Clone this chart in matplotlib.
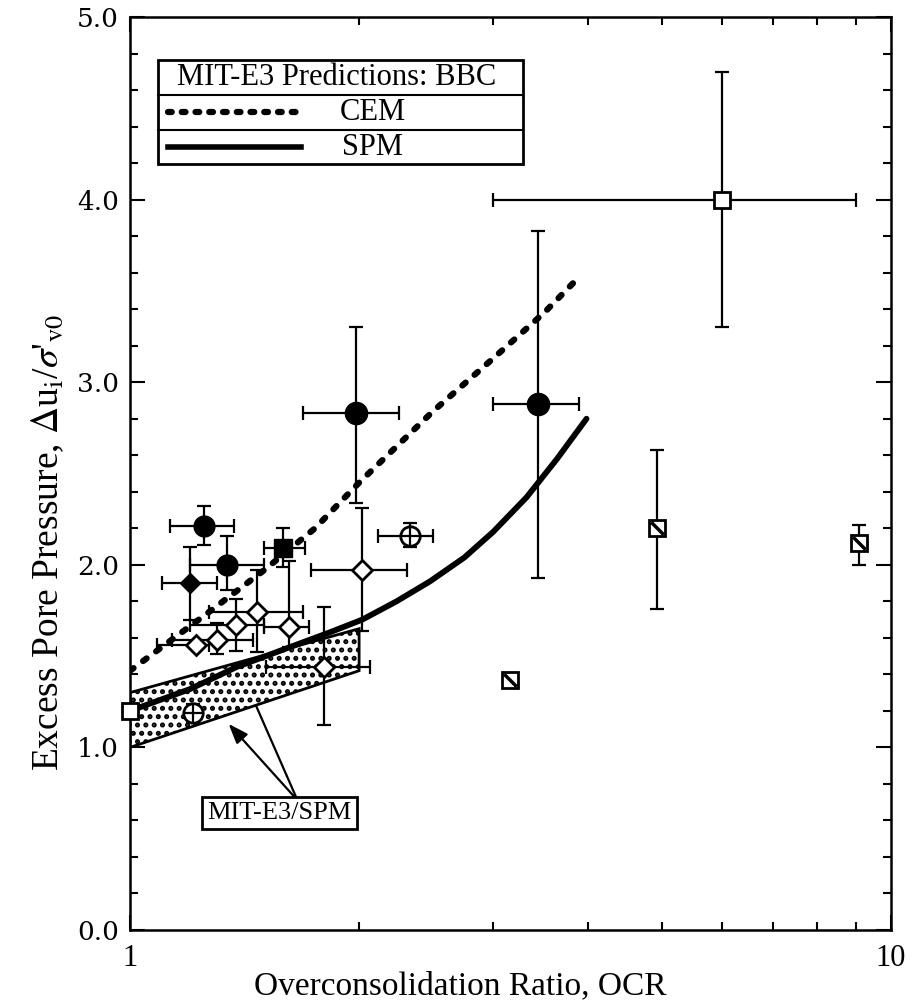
import numpy as np
import matplotlib
matplotlib.use('agg')
import matplotlib.pyplot as plt
from matplotlib.patches import Polygon, Rectangle
from matplotlib.path import Path
from matplotlib.ticker import FixedLocator, NullFormatter

plt.rcParams['font.family'] = ['Liberation Serif', 'DejaVu Serif']
plt.rcParams['mathtext.fontset'] = 'stix'
plt.rcParams['hatch.linewidth'] = 2.4

# MIT-E3 predictions (BBC)
spm_ocr = [1.0, 1.2, 1.38, 1.6, 1.83, 2.02, 2.24, 2.48, 2.75, 3.0, 3.32, 3.64, 3.98]
spm_du = [1.20, 1.32, 1.44, 1.54, 1.63, 1.70, 1.80, 1.91, 2.04, 2.18, 2.37, 2.58, 2.80]
cem_ocr = [1.0, 1.25, 1.5, 1.75, 2.0, 2.5, 3.0, 3.5, 3.9]
cem_du = [1.42, 1.72, 1.97, 2.20, 2.45, 2.84, 3.13, 3.38, 3.58]

# MIT-E3/SPM range band (corners)
band_ocr = [1.0, 2.0, 2.0, 1.0]
band_du = [1.30, 1.65, 1.42, 1.00]

# measured data: ocr, du, ocr_lo, ocr_hi, du_lo, du_hi
filled_circle = [
    (1.98, 2.83, 1.69, 2.26, 2.34, 3.30),
    (3.44, 2.88, 3.00, 3.89, 1.93, 3.83),
    (1.25, 2.21, 1.13, 1.37, 2.11, 2.32),
    (1.34, 2.00, 1.20, 1.50, 1.86, 2.16),
]
filled_diamond = [(1.20, 1.90, 1.10, 1.30, 1.70, 2.10)]
filled_square = [(1.59, 2.09, 1.50, 1.70, 1.99, 2.20)]
crossed_circle = [
    (2.33, 2.16, 2.12, 2.50, 2.10, 2.23),
    (1.21, 1.19, 1.21, 1.21, 1.14, 1.24),
]
open_diamond = [
    (2.02, 1.97, 1.73, 2.31, 1.64, 2.31),
    (1.47, 1.74, 1.27, 1.69, 1.52, 1.97),
    (1.38, 1.67, 1.20, 1.50, 1.53, 1.81),
    (1.62, 1.66, 1.50, 1.72, 1.55, 2.02),
    (1.30, 1.59, 1.135, 1.45, 1.51, 1.68),
    (1.22, 1.56, 1.085, 1.27, 1.56, 1.56),
    (1.80, 1.44, 1.51, 2.07, 1.12, 1.77),
]
open_square = [
    (6.0, 4.0, 3.0, 9.0, 3.30, 4.70),
    (1.0, 1.20, 1.0, 1.0, 1.20, 1.20),
]
slashed_square = [
    (3.16, 1.37, 3.16, 3.16, 1.37, 1.37),
    (4.93, 2.20, 4.93, 4.93, 1.76, 2.63),
    (9.08, 2.12, 9.08, 9.08, 2.00, 2.22),
]

yticks = [0.0, 1.0, 2.0, 3.0, 4.0, 5.0]
ytick_labels = ['0.0', '1.0', '2.0', '3.0', '4.0', '5.0']
xticks = [1, 10]
xtick_labels = ['1', '10']

fig = plt.figure(figsize=(9.21, 10.08), dpi=100)
ax = fig.add_axes([0.1412, 0.0774, 0.8262, 0.9057])
ax.set_xscale('log')
ax.set_xlim(1, 10)
ax.set_ylim(0, 5)

# shaded SPM band
band = Polygon(list(zip(band_ocr, band_du)), closed=True, facecolor='white',
               edgecolor='black', hatch='..', linewidth=2.0, zorder=2)
ax.add_patch(band)

ax.plot(spm_ocr, spm_du, color='black', lw=4.2, solid_capstyle='round',
        solid_joinstyle='round', zorder=4)
ax.plot(cem_ocr, cem_du, color='black', lw=4.5, dashes=(0.7, 1.9),
        dash_capstyle='round', zorder=4)


def draw_points(data, **kw):
    for x, y, xl, xh, yl, yh in data:
        ax.errorbar([x], [y], xerr=[[x - xl], [xh - x]], yerr=[[y - yl], [yh - y]],
                    fmt='none', ecolor='black', elinewidth=1.6, capsize=5,
                    capthick=1.6, zorder=5)
        ax.plot([x], [y], linestyle='none', zorder=6, clip_on=False, **kw)


slash = Path([(-1, 1), (1, -1)], [Path.MOVETO, Path.LINETO])

draw_points(filled_circle[:2], marker='o', ms=16, mfc='black', mec='black')
draw_points(filled_circle[2:], marker='o', ms=15, mfc='black', mec='black')
draw_points(filled_diamond, marker='D', ms=10, mfc='black', mec='black')
draw_points(filled_square, marker='s', ms=13, mfc='black', mec='black')
draw_points(open_diamond, marker='D', ms=10, mfc='white', mec='black', mew=2)
draw_points(crossed_circle, marker='o', ms=14, mfc='white', mec='black', mew=2)
for x, y, *_ in crossed_circle:
    ax.plot([x], [y], marker='+', ms=14, mec='black', mew=1.6, zorder=7)
draw_points(open_square, marker='s', ms=12, mfc='white', mec='black', mew=2)
draw_points(slashed_square, marker='s', ms=11, mfc='white', mec='black', mew=2)
for x, y, *_ in slashed_square:
    ax.plot([x], [y], marker=slash, ms=9, mec='black', mew=2.5, zorder=7)

# annotation for the band
ax.annotate('', xy=(1.34, 1.14), xytext=(1.66, 0.71),
            arrowprops=dict(arrowstyle='-|>,head_length=1.2,head_width=0.45',
                            color='black', lw=1.6), zorder=8)
ax.annotate('', xy=(1.46, 1.24), xytext=(1.66, 0.71),
            arrowprops=dict(arrowstyle='-', color='black', lw=1.6), zorder=8)
ax.text(1.57, 0.64, 'MIT-E3/SPM', ha='center', va='center', fontsize=19,
        zorder=9, bbox=dict(boxstyle='square,pad=0.2', facecolor='white',
                            edgecolor='black', linewidth=2))

# legend drawn as a small table
lx0, lx1 = 0.037, 0.516
ly = [0.953, 0.915, 0.876, 0.839]
ax.add_patch(Rectangle((lx0, ly[3]), lx1 - lx0, ly[0] - ly[3], transform=ax.transAxes,
                       facecolor='white', edgecolor='black', lw=2, zorder=9))
for yy in ly[1:3]:
    ax.plot([lx0, lx1], [yy, yy], transform=ax.transAxes, color='black', lw=1.5, zorder=10)
ax.text(0.062, (ly[0] + ly[1]) / 2, 'MIT-E3 Predictions: BBC',
        transform=ax.transAxes, ha='left', va='center', fontsize=22, zorder=10)
row_c = [(ly[1] + ly[2]) / 2, (ly[2] + ly[3]) / 2]
ax.plot([0.05, 0.225], [row_c[0]] * 2, transform=ax.transAxes, color='black', lw=4.5,
        dashes=(0.6, 1.6), dash_capstyle='round', zorder=10)
ax.plot([0.05, 0.225], [row_c[1]] * 2, transform=ax.transAxes, color='black', lw=4.0,
        zorder=10)
ax.text(0.319, row_c[0], 'CEM', transform=ax.transAxes, ha='center', va='center',
        fontsize=22, zorder=10)
ax.text(0.319, row_c[1], 'SPM', transform=ax.transAxes, ha='center', va='center',
        fontsize=22, zorder=10)

# axes, ticks, labels
ax.yaxis.set_major_locator(FixedLocator(yticks))
ax.set_yticklabels(ytick_labels, fontsize=19, family='DejaVu Serif')
ax.yaxis.set_minor_locator(FixedLocator(np.arange(0.2, 5.0, 0.2)))
ax.xaxis.set_major_locator(FixedLocator(xticks))
ax.set_xticklabels(xtick_labels, fontsize=22)
ax.xaxis.set_minor_locator(FixedLocator([2, 3, 4, 5, 6, 7, 8, 9]))
ax.xaxis.set_minor_formatter(NullFormatter())
ax.tick_params(which='both', direction='in', top=True, right=True, width=1.5)
ax.tick_params(which='major', length=11)
ax.tick_params(which='minor', length=6)
ax.tick_params(axis='x', which='major', pad=10)
ax.tick_params(axis='y', which='major', pad=8)
for s in ax.spines.values():
    s.set_linewidth(1.8)

fig.text(0.5, 0.022, 'Overconsolidation Ratio, OCR', ha='center', va='center',
         fontsize=24)
fig.text(0.052, 0.462,
         r"Excess Pore Pressure, $\Delta$u$_{\mathrm{i}}$/$\sigma$'$_{\mathrm{v0}}$",
         rotation=90, ha='center', va='center', fontsize=27)

fig.savefig('out.png', dpi=100)
